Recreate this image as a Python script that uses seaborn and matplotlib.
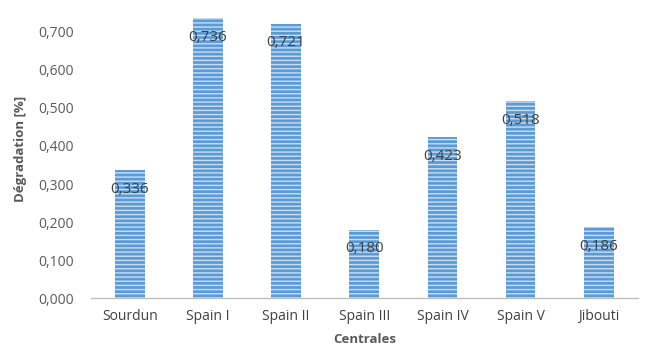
import matplotlib
matplotlib.use("Agg")
import matplotlib.pyplot as plt
import pandas as pd
import seaborn as sns

centrales = ["Sourdun", "Spain I", "Spain II", "Spain III", "Spain IV", "Spain V", "Jibouti"]
degradation = [0.336, 0.736, 0.721, 0.180, 0.423, 0.518, 0.186]

df = pd.DataFrame({"Centrales": centrales, "Degradation": degradation})

sns.set_theme(style="white")
plt.rcParams["font.family"] = ["Open Sans", "DejaVu Sans"]
plt.rcParams["hatch.linewidth"] = 1.0

fig, ax = plt.subplots(figsize=(6.63, 3.54), dpi=100)
fig.subplots_adjust(left=0.137, right=0.962, top=1.0, bottom=0.158)

sns.barplot(data=df, x="Centrales", y="Degradation", ax=ax, color="#5B9BD5",
            width=0.38, saturation=1)

for bar in ax.patches:
    bar.set_hatch("----")
    bar.set_edgecolor("#C9DEF2")
    bar.set_linewidth(0)
    h = bar.get_height()
    ax.text(bar.get_x() + bar.get_width() / 2, h - 0.03, f"{h:.3f}".replace(".", ","),
            ha="center", va="top", fontsize=11, color="#404040")

ax.set_ylim(0, 0.784)
ax.set_yticks([i / 10 for i in range(8)])
ax.set_yticklabels([f"{i / 10:.3f}".replace(".", ",") for i in range(8)], fontsize=10, color="#595959")
ax.tick_params(axis="x", labelsize=10, labelcolor="#404040", length=0, pad=8)
ax.tick_params(axis="y", length=0, pad=12)

for s in ["top", "right", "left"]:
    ax.spines[s].set_visible(False)
ax.spines["bottom"].set_color("#BFBFBF")
ax.spines["bottom"].set_linewidth(1)

ax.set_xlabel("Centrales", fontsize=9.5, fontweight="bold", color="#595959", labelpad=6)
ax.set_ylabel("Dégradation [%]", fontsize=9.5, fontweight="bold", color="#595959", labelpad=8)

fig.savefig("out.png", dpi=100)
